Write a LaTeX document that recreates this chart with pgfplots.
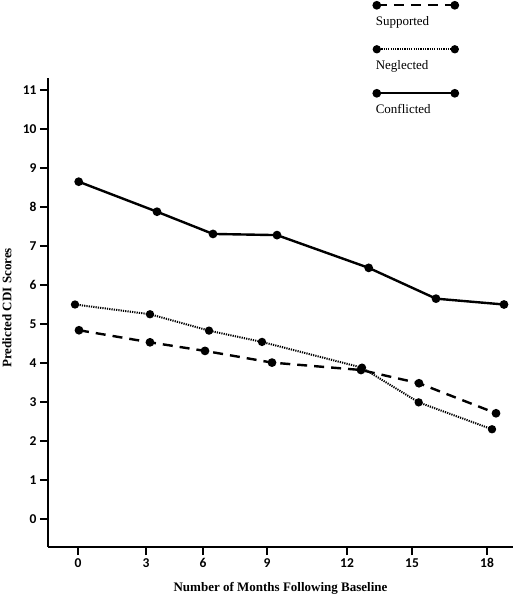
\documentclass[border=0pt]{standalone}
\usepackage{pgfplots}
\pgfplotsset{compat=1.18}
\usepackage{fontspec}
\setmainfont{Liberation Serif}
\newfontfamily\tickfont{Carlito}

\begin{document}
\begin{tikzpicture}
\useasboundingbox (-48pt,-47pt) rectangle (470pt,547pt);
\begin{axis}[
  scale only axis, width=465pt, height=469pt,
  xmin=48, xmax=513, ymin=-0.72, ymax=11.31,
  axis lines*=left,
  axis line style={line width=2.8pt, black},
  xtick={78,146,203,267,347,412,487},
  xticklabels={0,3,6,9,12,15,18},
  ytick={0,1,2,3,4,5,6,7,8,9,10,11},
  tick align=outside, major tick length=8pt,
  tick style={line width=2.4pt, black},
  ticklabel style={font=\fontsize{13.5}{15}\tickfont\bfseries},
  /pgf/number format/assume math mode=true,
  xlabel={Number of Months Following Baseline},
  ylabel={Predicted CDI Scores},
  every axis x label/.style={at={(axis description cs:0.5,0)}, anchor=center, yshift=-41pt},
  every axis y label/.style={at={(axis description cs:0,0.51)}, xshift=-41pt, rotate=90, anchor=center},
  label style={font=\fontsize{13}{15}\selectfont\bfseries},
  clip=false,
  legend cell align=left,
  legend style={at={(axis description cs:0.7045,1.132)}, anchor=north west, draw=none, fill=none,
    inner sep=0pt, row sep=32pt,
    nodes={inner sep=0pt, text height=9pt, text depth=3pt, font=\fontsize{13}{15}\selectfont}},
  legend image code/.code={
    \draw[#1, overlay] plot coordinates {(1pt,17pt) (79pt,17pt)};
  },
]
\addplot[black, line width=2.4pt, dash pattern=on 10pt off 7pt, mark=*, mark size=3.1pt, mark options={solid}]
  coordinates {(79,4.84) (150,4.53) (205,4.31) (272,4.01) (361,3.82) (419,3.48) (496,2.71)};
\addlegendentry{Supported}
\addplot[black, line width=2pt, dash pattern=on 1.2pt off 1.1pt, mark=*, mark size=3.1pt, mark options={solid}]
  coordinates {(75,5.50) (150,5.25) (209,4.83) (262,4.54) (362,3.88) (418.7,2.99) (492,2.30)};
\addlegendentry{Neglected}
\addplot[black, line width=2.4pt, mark=*, mark size=3.1pt, mark options={solid}]
  coordinates {(78.7,8.65) (157,7.88) (213,7.31) (277,7.28) (368.7,6.44) (436,5.65) (504,5.50)};
\addlegendentry{Conflicted}
\end{axis}
\end{tikzpicture}
\end{document}
